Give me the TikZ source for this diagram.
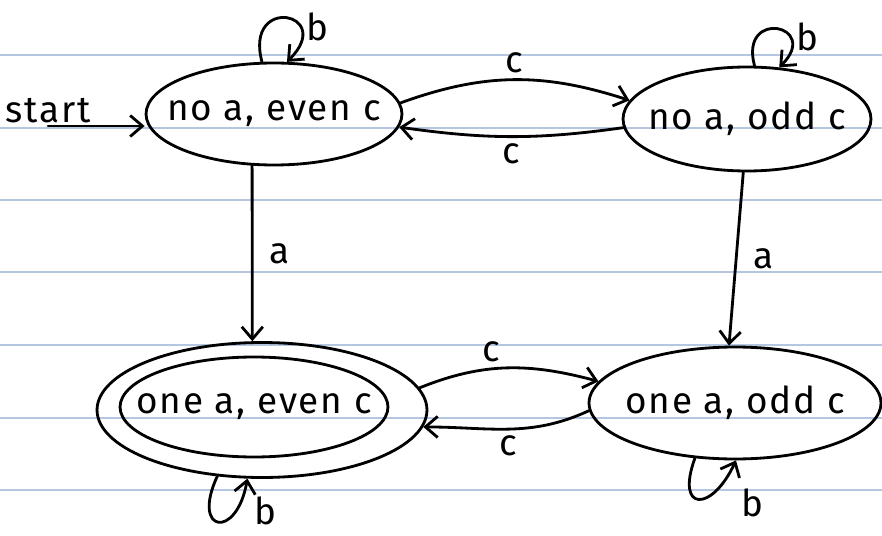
\documentclass[tikz,border=0pt]{standalone}
\usepackage{fontspec}
\setmainfont{Fira Sans}[LetterSpace=5]
\usepackage{tikz}
\usetikzlibrary{
  positioning,
  arrows.meta,
  shapes.geometric
}

\definecolor{ruleblue}{RGB}{180,198,224}
\newcommand{\statetext}[1]{\makebox[0pt]{\raisebox{-3pt}{#1}}}

\begin{document}
\begin{tikzpicture}[
  x=0.02cm, y=0.02cm,
  font=\fontsize{21}{25}\selectfont,
  line width=1.6pt,
  >={Straight Barb[length=7pt,width=12pt]},
  state/.style={
    ellipse,
    draw=black,
    inner sep=0pt
  },
  lbl/.style={
    font=\fontsize{21}{25}\selectfont,
    inner sep=3pt
  },
  arrow/.style={
    ->,
    line cap=round
  },
  ruling/.style={
    draw=ruleblue,
    line width=1pt
  }
]
\useasboundingbox (0,0) rectangle (882,535);

% Ruled paper
\foreach \ry in {480,407,335,263,190,117,45}
  \draw[ruling] (0,\ry) -- (882,\ry);

% States
\node[state, minimum width=5.12cm, minimum height=2.04cm] (s1) at (274,421) {\statetext{no a, even c}};
\node[state, minimum width=4.96cm, minimum height=2.08cm] (s2) at (747,416) {\statetext{no a, odd c}};
\node[state, minimum width=5.36cm, minimum height=2.0cm] (s3) at (254,128) {\statetext{one a, even c}};
\node[state, minimum width=6.6cm, minimum height=2.7cm] (s3out) at (262,125) {};
\node[state, minimum width=5.84cm, minimum height=2.24cm] (s4) at (735,132) {\statetext{one a, odd c}};

\coordinate (start) at (48,409);

% Transitions
\draw[arrow] (start) node[lbl, above=-2pt] (startlbl) {start} -- (s1.west |- start);

\draw[arrow] (s1.247) -- node[lbl, right=6pt] (la1) {a} (s3out.98);
\draw[arrow] (s2.266) -- node[lbl, right=6pt] (la2) {a} (s4.96);

\draw[arrow] (s1.5) to[out=20, in=162] node[lbl, above] (lc1) {c} (s2.171);
\draw[arrow] (s2.184) to[out=188, in=-8] node[lbl, below] (lc2) {c} (s1.354);
\draw[arrow] (s3out.8) to[out=22, in=165] node[lbl, above, pos=.4] (lc3) {c} (s4.171);
\draw[arrow] (s4.183) to[out=205, in=0] node[lbl, below] (lc4) {c} (s3out.354);

% Loops
\draw[arrow] (s1.103) to[out=105, in=45, distance=1.4cm] node[lbl, pos=.7, right] (lb1) {b} (s1.76);
\draw[arrow] (s2.82) to[out=105, in=45, distance=1.2cm] node[lbl, pos=.7, right] (lb2) {b} (s2.58);
\draw[arrow] (s3out.236) to[out=245, in=260, distance=1.25cm] node[lbl, pos=.8, below right=-10pt and 6pt] (lb3) {b} (s3out.258);
\draw[arrow] (s4.234) to[out=250, in=245, distance=1.15cm] node[lbl, pos=.8, below right=-2pt and 8pt] (lb4) {b} (s4.271);

\end{tikzpicture}
\end{document}
